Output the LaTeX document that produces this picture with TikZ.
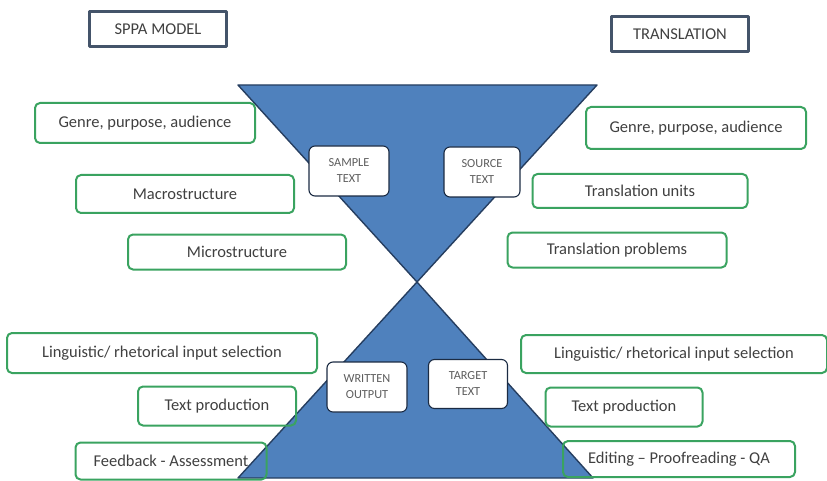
\documentclass[tikz,border=0pt]{standalone}
\usepackage{fontspec}
\setmainfont{Carlito}
\definecolor{glassblue}{RGB}{79,129,189}
\definecolor{glassedge}{RGB}{38,62,96}
\definecolor{stepgreen}{RGB}{58,163,96}
\definecolor{headedge}{RGB}{68,84,106}
\definecolor{inktext}{RGB}{64,64,64}

\begin{document}
\begin{tikzpicture}[x=1pt, y=-1pt, line join=round, line cap=round,
	font=\fontsize{16.5}{19}\selectfont,
	stage/.style={draw=stepgreen, line width=2pt, rounded corners=5pt, text=inktext, inner sep=0pt},
	header/.style={draw=headedge, line width=2.4pt, text=inktext, inner sep=0pt, minimum width=137pt, minimum height=35pt},
	core/.style={draw=glassedge!70!black, fill=white, line width=1.1pt, rounded corners=6pt, text=inktext!85,
		font=\fontsize{12.3}{16}\selectfont, align=center, inner sep=0pt, minimum width=80pt, minimum height=50pt}]
	\useasboundingbox (0,0) rectangle (827,481);

	% Hourglass
	\coordinate (toplft) at (238,85);
	\coordinate (toprgt) at (597,85);
	\coordinate (waist) at (417,282);
	\coordinate (botlft) at (238,478);
	\coordinate (botrgt) at (593,478);
	\filldraw[fill=glassblue, draw=glassedge, line width=1.4pt] (toplft) -- (toprgt) -- (waist) -- cycle;
	\filldraw[fill=glassblue, draw=glassedge, line width=1.4pt] (waist) -- (botrgt) -- (botlft) -- cycle;

	% Headers
	\node[header] (sppa) at (158,29) {SPPA MODEL};
	\node[header] (trans) at (680,34) {TRANSLATION};

	% Texts inside the glass
	\node[core] (sample) at (349,171) {SAMPLE\\TEXT};
	\node[core, minimum width=76pt] (source) at (482,172) {SOURCE\\TEXT};
	\node[core] (written) at (367,387) {WRITTEN\\OUTPUT};
	\node[core, minimum width=79pt, minimum height=49pt] (target) at (468,384) {TARGET\\TEXT};

	% SPPA side
	\node[stage, minimum width=220pt, minimum height=40pt] (lgenre) at (145,123) {Genre, purpose, audience};
	\node[stage, minimum width=218pt, minimum height=38pt] (lmacro) at (185,194) {Macrostructure};
	\node[stage, minimum width=218pt, minimum height=35pt] (lmicro) at (237,252) {Microstructure};
	\node[stage, minimum width=310pt, minimum height=40pt] (lling) at (162,353) {Linguistic/ rhetorical input selection};
	\node[stage, minimum width=158pt, minimum height=39pt] (lprod) at (217,406) {Text production};
	\node[stage, minimum width=191pt, minimum height=37pt] (lfeed) at (171,461) {Feedback - Assessment};

	% Translation side
	\node[stage, minimum width=220pt, minimum height=42pt] (rgenre) at (696,128) {Genre, purpose, audience};
	\node[stage, minimum width=215pt, minimum height=34pt] (runits) at (640,191) {Translation units};
	\node[stage, minimum width=219pt, minimum height=35pt] (rprob) at (617,250) {Translation problems};
	\node[stage, minimum width=306pt, minimum height=38pt] (rling) at (674,354) {Linguistic/ rhetorical input selection};
	\node[stage, minimum width=157pt, minimum height=39pt] (rprod) at (624,407) {Text production};
	\node[stage, minimum width=232pt, minimum height=36pt] (redit) at (679,459) {Editing -- Proofreading - QA};
\end{tikzpicture}
\end{document}
